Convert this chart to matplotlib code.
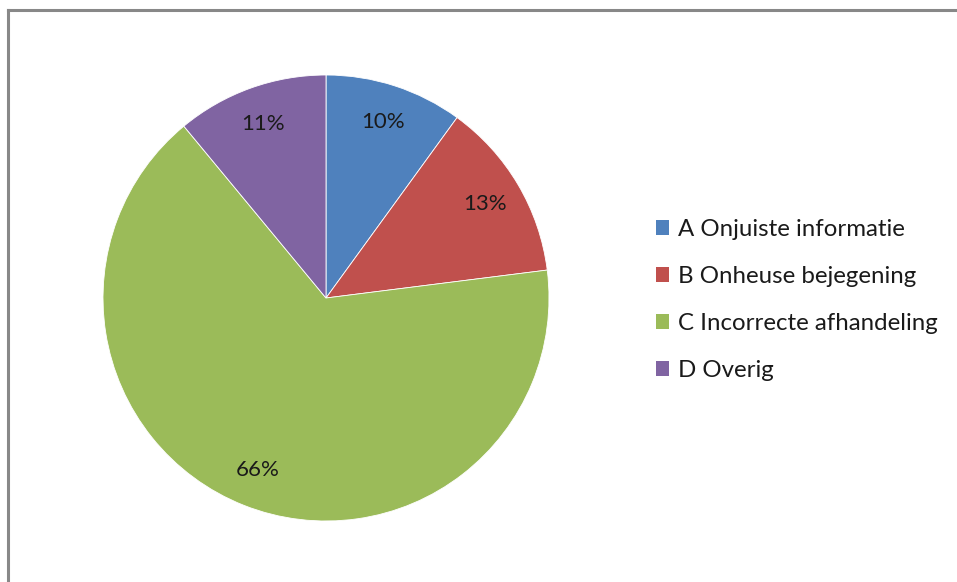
import matplotlib.pyplot as plt
from matplotlib.lines import Line2D
from matplotlib.patches import Patch

plt.rcParams['font.family'] = ['Lato', 'DejaVu Sans']

labels = ['A Onjuiste informatie', 'B Onheuse bejegening',
          'C Incorrecte afhandeling', 'D Overig']
values = [10, 13, 66, 11]
colors = ['#4F81BD', '#C0504D', '#9BBB59', '#8064A2']

W, H = 957, 582
fig = plt.figure(figsize=(W / 100, H / 100), dpi=100)

# pie centre (326, 298) px, radius 223 px
cx, cy, r = 326, 298, 223
ax = fig.add_axes([(cx - r) / W, (H - cy - r) / H, 2 * r / W, 2 * r / H])
wedges, texts, autotexts = ax.pie(
    values, colors=colors, startangle=90, counterclock=False,
    autopct='%d%%', pctdistance=0.83,
    wedgeprops=dict(edgecolor='white', linewidth=0.6),
    textprops=dict(fontsize=16, color='#1a1a1a'))
ax.set_xlim(-1, 1)
ax.set_ylim(-1, 1)
ax.set_aspect('equal')
ax.axis('off')

handles = [Patch(facecolor=c, edgecolor='none') for c in colors]
fig.legend(handles, labels, loc='center left',
           bbox_to_anchor=(634 / W, 1 - 300 / H), frameon=False,
           fontsize=17.3, handlelength=0.55, handleheight=0.55,
           handletextpad=0.4, labelspacing=1.08, labelcolor='#1a1a1a')

# chart-area frame (left and top edges visible)
frame = '#888888'
fig.add_artist(Line2D([8 / W, 8 / W], [0, 1 - 10 / H], color=frame, lw=2.2,
                      transform=fig.transFigure))
fig.add_artist(Line2D([8 / W, 1], [1 - 10 / H, 1 - 10 / H], color=frame, lw=2.2,
                      transform=fig.transFigure))

fig.savefig('out.png', dpi=100, facecolor='white')
